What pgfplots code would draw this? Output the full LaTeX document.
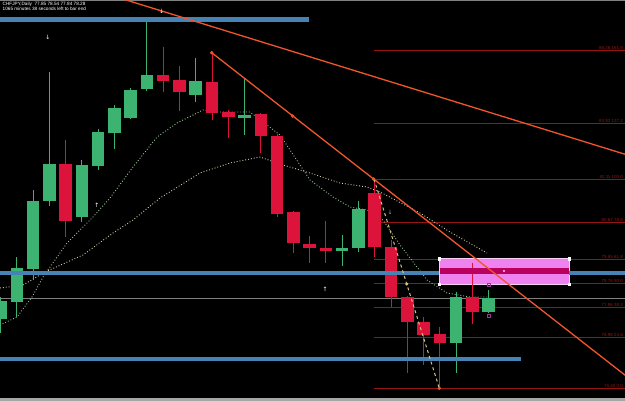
\documentclass[border=0pt]{standalone}
\usepackage{fontspec}
\setmainfont{Liberation Sans}
\newfontfamily\dejavu{DejaVu Sans}
\usepackage{pgfplots}
\pgfplotsset{compat=1.18}
\definecolor{cgreen}{RGB}{60,179,113}
\definecolor{cred}{RGB}{220,20,60}
\definecolor{sblue}{RGB}{70,130,180}
\definecolor{fibred}{RGB}{150,20,20}
\definecolor{trend}{RGB}{240,85,45}
\definecolor{mafast}{RGB}{150,195,150}
\definecolor{maslow}{RGB}{205,205,170}
\definecolor{beige}{RGB}{215,195,125}
\definecolor{pinkv}{RGB}{238,130,238}
\definecolor{stripe}{RGB}{185,0,95}
\definecolor{pgray}{RGB}{128,128,128}
\newcommand{\candle}[6]{%
  \addplot[#6, line width=1bp] coordinates {(#1,#4) (#1,#5)};%
  \addplot[#6, line width=12.5bp, line cap=butt] coordinates {(#1,#2) (#1,#3)};%
}
\newcommand{\arr}[2]{\textcolor{#1}{\dejavu\fontsize{6}{6}\selectfont #2}}
\begin{document}
\begin{tikzpicture}
\begin{axis}[width=625bp, height=401bp, scale only axis,
  xmin=0, xmax=625, ymin=0, ymax=401, y dir=reverse,
  axis line style={draw=none}, ticks=none,
  axis background/.style={fill=black}, clip=true]
% window borders and price line
\addplot[pgray, line width=1bp] coordinates {(0,0.5) (625,0.5)};
\addplot[gray!70, line width=3bp] coordinates {(0,399.5) (625,399.5)};
\addplot[pgray, line width=1bp] coordinates {(0,298.5) (625,298.5)};
% fibonacci levels
\addplot[fibred, line width=0.9bp] coordinates {(374,50) (625,50)};
\addplot[fibred, line width=0.9bp] coordinates {(374,123) (625,123)};
\addplot[fibred, line width=0.9bp] coordinates {(374,179.5) (625,179.5)};
\addplot[fibred, line width=0.9bp] coordinates {(374,222.5) (625,222.5)};
\addplot[fibred, line width=0.9bp] coordinates {(374,259) (625,259)};
\addplot[fibred, line width=0.9bp] coordinates {(374,283.5) (625,283.5)};
\addplot[fibred, line width=0.9bp] coordinates {(374,307.5) (625,307.5)};
\addplot[fibred, line width=0.9bp] coordinates {(374,337.5) (625,337.5)};
\addplot[fibred, line width=0.9bp] coordinates {(374,388.3) (625,388.3)};
% moving averages
\addplot[mafast, dotted, line width=0.9bp] coordinates {(0,325) (17,317) (32,297) (43,277) (67,243) (93,217) (110,198) (133,167) (157,137) (177,123) (203,110) (220,112) (250,112) (267,125) (280,135) (310,180) (333,197) (350,207) (367,210) (383,220) (400,245) (427,280) (447,293) (470,297) (488,297)};
\addplot[maslow, dotted, line width=0.9bp] coordinates {(0,288) (23,285) (45,272) (83,255) (113,233) (133,220) (160,198) (200,173) (230,163) (260,157) (283,165) (310,173) (340,183) (367,187) (380,192) (420,213) (450,232) (487,253)};
% pink zone
\addplot[fill=pinkv, draw=white!60!pinkv, line width=0.7bp] coordinates {(439.3,258.7) (569.3,258.7) (569.3,284) (439.3,284) (439.3,258.7)};
% candles: x, body top, body bottom, high, low, colour
\candle{0.5}{301}{319.3}{297}{333}{cgreen}
\candle{16.8}{267.7}{301.7}{257.3}{317}{cgreen}
\candle{33.0}{200.7}{269}{190}{280}{cgreen}
\candle{49.3}{164}{200.7}{71.7}{206}{cgreen}
\candle{65.6}{164}{220.7}{140}{236.7}{cred}
\candle{81.9}{165}{216.7}{160}{221.7}{cgreen}
\candle{98.1}{132}{166}{129}{170}{cgreen}
\candle{114.4}{108}{133}{105}{149}{cgreen}
\candle{130.7}{90}{117.7}{88}{119}{cgreen}
\candle{146.9}{75}{89}{22}{90.7}{cgreen}
\candle{163.2}{75}{80.7}{46.7}{91.7}{cred}
\candle{179.5}{80}{91.7}{66}{110.7}{cred}
\candle{195.7}{81}{94.7}{57.7}{101.7}{cgreen}
\candle{212.0}{82}{113}{52.7}{119.5}{cred}
\candle{228.3}{112}{116.5}{110}{138}{cred}
\candle{244.6}{115}{117.7}{78}{135}{cgreen}
\candle{260.8}{114}{136}{113}{152.7}{cred}
\candle{277.1}{136}{214}{134}{217}{cred}
\candle{293.4}{212}{243}{210.7}{253}{cred}
\candle{309.6}{244}{248}{236}{263}{cred}
\candle{325.9}{248}{251}{221}{263}{cred}
\candle{342.2}{248}{251}{235}{266}{cgreen}
\candle{358.4}{209}{248}{200.7}{252}{cgreen}
\candle{374.7}{192.7}{246.7}{179}{257.3}{cred}
\candle{391.0}{247}{297}{240}{306.7}{cred}
\candle{407.3}{297}{321.7}{296}{373}{cred}
\candle{423.5}{322}{335}{316.7}{365}{cred}
\candle{439.8}{334}{343.3}{326.7}{386.7}{cred}
\candle{456.1}{297}{343.3}{291.7}{373.3}{cgreen}
\candle{472.3}{297}{311.7}{262.7}{324}{cred}
\candle{488.6}{298.3}{311.7}{290}{312.5}{cgreen}
% support / resistance bars
\addplot[sblue, line width=4.8bp] coordinates {(0,19.7) (309,19.7)};
\addplot[sblue, line width=4.6bp] coordinates {(0,273) (439.3,273)};
\addplot[sblue, line width=4.6bp] coordinates {(569.3,273) (625,273)};
\addplot[sblue, line width=4.4bp] coordinates {(0,359.2) (520.7,359.2)};
\addplot[stripe, line width=6.6bp] coordinates {(439.6,271) (569,271)};
% trendlines
\addplot[trend, line width=1.3bp] coordinates {(120,-1.9) (630,155.8)};
\addplot[trend, line width=1.3bp] coordinates {(211.7,52.7) (640,386.8)};
\addplot[beige, dashed, line width=1bp] coordinates {(374,179) (439.3,388.3)};
% handles
\addplot[only marks, mark=*, mark size=1.5bp, trend] coordinates {(211.7,52.7) (292.7,116) (373.5,179) (439.3,388.3)};
\addplot[only marks, mark=*, mark size=1.3bp, beige] coordinates {(406.7,284)};
\addplot[only marks, mark=square*, mark size=1.1bp, white] coordinates {(439.3,258.7) (569.3,258.7) (569.3,284) (439.3,284)};
\addplot[only marks, mark=*, mark size=0.8bp, pinkv!60!white] coordinates {(504,271)};
\addplot[only marks, mark=square, mark size=1.3bp, violet!80!white, line width=0.6bp] coordinates {(488.6,285) (488.6,316)};
% fractal arrows
\addplot[only marks, mark=text, text mark={\arr{white}{↓}}] coordinates {(48,37) (161.7,11)};
\addplot[only marks, mark=text, text mark={\arr{white}{↑}}] coordinates {(97,205) (325,289)};
\addplot[only marks, mark=text, text mark={\arr{gray!80}{↓}}] coordinates {(390,212.5)};
% texts
\node[anchor=north west, align=left, inner sep=0pt, text=white, font=\fontsize{4.7}{4.9}\selectfont] at (axis cs:2.5,2.2) {CHFJPY,Daily\ \ 77.85 78.54 77.84 78.28\\1065 minutes 38 seconds left to bar end};
\begin{scope}[every node/.style={anchor=south east, inner sep=0.4bp, text=fibred, font=\fontsize{4.5}{4.5}\selectfont}]
\node at (axis cs:623.5,50) {86.26 161.8};
\node at (axis cs:623.5,123) {83.93 127.2};
\node at (axis cs:623.5,179.5) {82.11 100.0};
\node at (axis cs:623.5,222.5) {80.67 78.6};
\node at (axis cs:623.5,259) {79.55 61.8};
\node at (axis cs:623.5,283.5) {78.76 50.0};
\node at (axis cs:623.5,307.5) {77.96 38.2};
\node at (axis cs:623.5,337.5) {76.98 23.6};
\node at (axis cs:623.5,388.3) {75.40 0.0};
\end{scope}
\end{axis}
\pgfresetboundingbox
\path (current axis.south west) rectangle (current axis.north east);
\end{tikzpicture}
\end{document}
